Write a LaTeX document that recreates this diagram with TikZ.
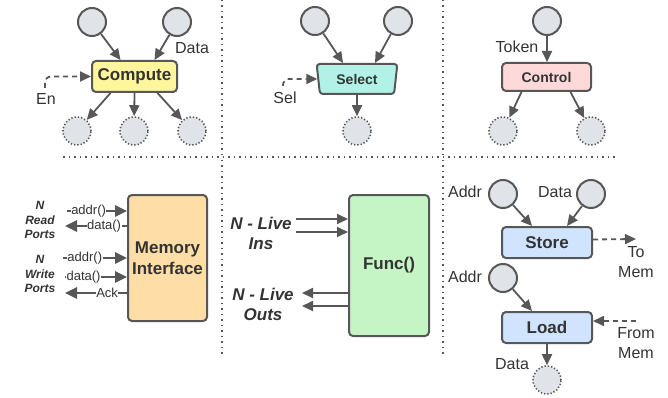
\documentclass[tikz,border=0pt]{standalone}
\usepackage{fontspec}
\setmainfont{Liberation Sans}
\usetikzlibrary{arrows.meta,shapes.geometric}
\definecolor{linec}{HTML}{575757}
\definecolor{circf}{HTML}{E0E3E8}
\definecolor{txt}{HTML}{333333}
\definecolor{cyel}{HTML}{FFF59D}
\definecolor{ccya}{HTML}{B2F2E6}
\definecolor{cpnk}{HTML}{FFD9D9}
\definecolor{cora}{HTML}{FFDDA6}
\definecolor{cgrn}{HTML}{C5F5C5}
\definecolor{cblu}{HTML}{D0E4FF}
\tikzset{
  arr/.style={draw=linec, line width=1.8pt, -{Triangle[length=11pt,width=10pt]}},
  parr/.style={draw=linec, line width=2.6pt, -{Triangle[length=12pt,width=11pt]}},
  dasharr/.style={arr, dash pattern=on 5pt off 4pt},
  src/.style={circle, draw=linec, line width=2pt, fill=circf, minimum size=28pt, inner sep=0pt},
  sink/.style={circle, draw=linec, line width=1.6pt, dash pattern=on 1.3pt off 2pt, fill=circf, minimum size=28pt, inner sep=0pt},
  opbox/.style={rectangle, rounded corners=4pt, draw=linec, line width=2pt, text=txt, inner sep=0pt},
  bigf/.style={font=\fontsize{17}{21}\selectfont\bfseries},
  smf/.style={font=\fontsize{14}{16}\selectfont\bfseries},
  lbl/.style={font=\fontsize{16}{20}\selectfont, text=txt, inner sep=0pt},
  plbl/.style={font=\fontsize{13}{15}\selectfont, text=txt, inner sep=0.5pt, fill=white},
  bilbl/.style={font=\fontsize{12}{14.5}\selectfont\bfseries\itshape, text=txt, inner sep=0pt, align=center},
  bigbi/.style={font=\fontsize{17}{20}\selectfont\bfseries\itshape, text=txt, inner sep=0pt, align=center},
  divider/.style={draw=linec, line width=1.5pt, dash pattern=on 1.5pt off 4pt}
}
\begin{document}
\begin{tikzpicture}[x=1pt,y=-1pt]
\useasboundingbox (0,0) rectangle (668,398);
% dividers
\draw[divider] (222,0) -- (222,355);
\draw[divider] (443,0) -- (443,355);
\draw[divider] (63,157) -- (617,157);

% ---------- Compute ----------
\node[src] (c1) at (92,22) {};
\node[src] (c2) at (177,22) {};
\node[opbox, bigf, fill=cyel, minimum width=85pt, minimum height=31pt] (cmp) at (134.5,76.5) {Compute};
\node[sink] (o1) at (77,131) {};
\node[sink] (o2) at (134,131) {};
\node[sink] (o3) at (192,131) {};
\node[lbl] (ldata) at (192,48) {Data};
\node[lbl] (len) at (46,99) {En};
\coordinate (enc) at (45,88);
\draw[arr] (c1) -- ([xshift=-14pt]cmp.north);
\draw[arr] (c2) -- ([xshift=20pt]cmp.north);
\draw[arr] ([xshift=-24pt]cmp.south) -- (o1);
\draw[arr] (cmp.south) -- (o2);
\draw[arr] ([xshift=23pt]cmp.south) -- (o3);
\draw[dasharr, rounded corners=6pt] (enc) |- (cmp.west);

% ---------- Select ----------
\node[src] (s1) at (315,21) {};
\node[src] (s2) at (398,21) {};
\node[trapezium, trapezium angle=80, trapezium stretches=true, shape border rotate=180,
      minimum width=81pt, minimum height=30pt, draw=linec, line width=2pt, fill=ccya,
      rounded corners=3pt, text=txt, smf, inner sep=0pt] (sel) at (357,79) {Select};
\node[sink] (so) at (357,131) {};
\node[lbl] (lsel) at (285,98) {Sel};
\coordinate (selc) at (283,86);
\draw[arr] (s1) -- ([xshift=-14pt]sel.north);
\draw[arr] (s2) -- ([xshift=18pt]sel.north);
\draw[arr] (sel.south) -- (so);
\draw[dasharr, rounded corners=6pt] (selc) |- (sel.west);

% ---------- Control ----------
\node[src] (t1) at (547,21) {};
\node[opbox, smf, fill=cpnk, minimum width=89pt, minimum height=28pt] (ctl) at (546.5,77) {Control};
\node[sink] (t2) at (503,131) {};
\node[sink] (t3) at (591,131) {};
\node[lbl] (ltok) at (517,47) {Token};
\draw[arr] (t1) -- (ctl.north -| t1);
\draw[arr] ([xshift=-25pt]ctl.south) -- (t2);
\draw[arr] ([xshift=24pt]ctl.south) -- (t3);

% ---------- Memory Interface ----------
\node[opbox, bigf, fill=cora, minimum width=79pt, minimum height=126pt, align=center] (mem) at (167.5,258) {Memory\\Interface};
\node[bilbl] (rp) at (40,220) {N\\Read\\Ports};
\node[bilbl] (wp) at (40,274) {N\\Write\\Ports};
\coordinate (ra) at (67,211);
\coordinate (rd) at (65,226);
\coordinate (wa) at (63,258);
\coordinate (wd) at (65,277);
\coordinate (wk) at (65,293);
\draw[parr] (ra) -- (mem.west |- ra) node[plbl, pos=0.36] {addr()};
\draw[parr] (mem.west |- rd) -- (rd) node[plbl, pos=0.37] {data()};
\draw[parr] (wa) -- (mem.west |- wa) node[plbl, pos=0.34] {addr()};
\draw[parr] (wd) -- (mem.west |- wd) node[plbl, pos=0.3] {data()};
\draw[parr] (mem.west |- wk) -- (wk) node[plbl, pos=0.32] {Ack};

% ---------- Func ----------
\node[opbox, bigf, fill=cgrn, minimum width=80pt, minimum height=141pt] (fn) at (389,265.5) {Func()};
\node[bigbi] (lin) at (261,233) {N - Live\\Ins};
\node[bigbi] (lout) at (263,304) {N - Live\\Outs};
\coordinate (i1) at (296,219);
\coordinate (i2) at (296,232);
\coordinate (u1) at (302,293);
\coordinate (u2) at (302,306);
\draw[arr] (i1) -- (fn.west |- i1);
\draw[arr] (i2) -- (fn.west |- i2);
\draw[arr] (fn.west |- u1) -- (u1);
\draw[arr] (fn.west |- u2) -- (u2);

% ---------- Store / Load ----------
\node[src] (sa) at (503,194) {};
\node[src] (sd) at (591,194) {};
\node[opbox, bigf, fill=cblu, minimum width=90pt, minimum height=31pt] (st) at (547,242.5) {Store};
\node[lbl] (lsa) at (465,192) {Addr};
\node[lbl] (lsd) at (555,192) {Data};
\coordinate (tomem) at (636,239);
\node[lbl, align=center] (ltm) at (636,262) {To\\Mem};
\draw[arr] (sa) -- ([xshift=-15pt]st.north);
\draw[arr] (sd) -- ([xshift=20pt]st.north);
\draw[dasharr] ([yshift=3pt]st.east) -- (tomem);

\node[src] (la) at (503,278) {};
\node[lbl] (lla) at (465,277) {Addr};
\node[opbox, bigf, fill=cblu, minimum width=90pt, minimum height=31pt] (ld) at (547,327.5) {Load};
\node[sink] (lo) at (547,380) {};
\node[lbl] (llo) at (512,364) {Data};
\coordinate (frmem) at (636,321);
\node[lbl, align=center] (lfm) at (636,343) {From\\Mem};
\draw[arr] (la) -- ([xshift=-15pt]ld.north);
\draw[dasharr] (frmem) -- (ld.east |- frmem);
\draw[arr] (ld.south) -- (lo);
\end{tikzpicture}
\end{document}
